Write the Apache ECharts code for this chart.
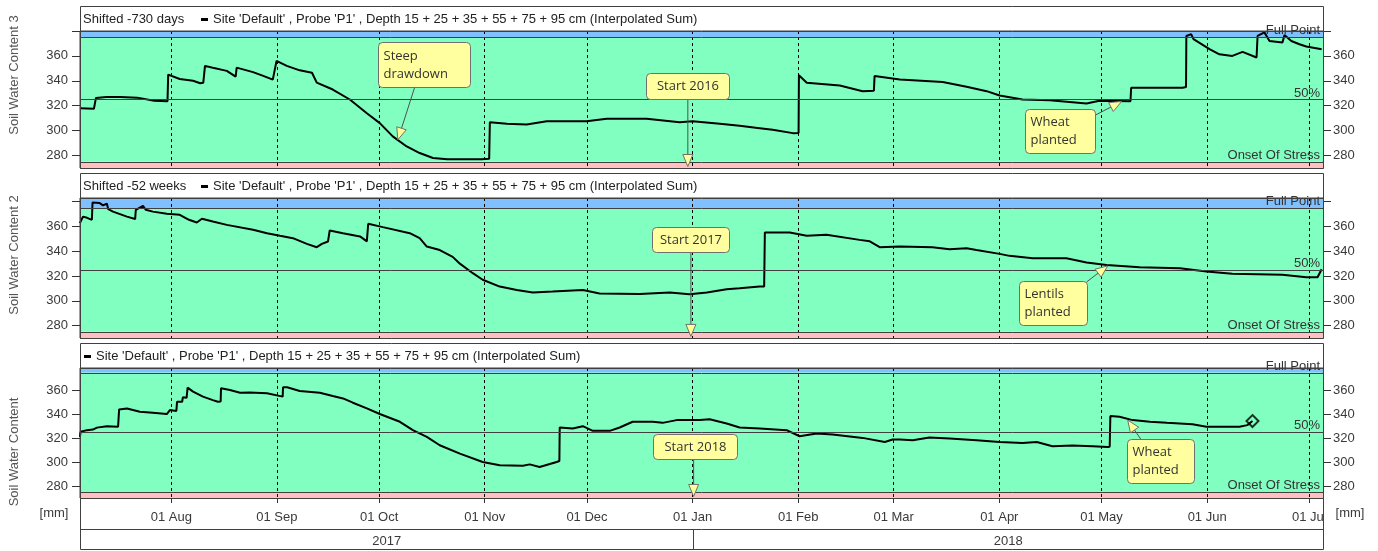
<!DOCTYPE html>
<html><head><meta charset="utf-8">
<script src="https://cdn.jsdelivr.net/npm/echarts@6/dist/echarts.min.js"></script>
<style>html,body{margin:0;padding:0;background:#fff}#c{width:1378px;height:551px}</style>
</head><body><div id="c"></div>
<script>
// ---------------- DATA ----------------
const seriesName = "Site 'Default' , Probe 'P1' , Depth 15 + 25 + 35 + 55 + 75 + 95 cm (Interpolated Sum)";
const panelTitles = ['Shifted -730 days', 'Shifted -52 weeks', ''];
const yAxisNames = ['Soil Water Content 3', 'Soil Water Content 2', 'Soil Water Content'];
const unitLabel = '[mm]';
const dataOrigin = '2017-07-05';          // day 0 of the day arrays below
const axisStartDay = 0.22, axisEndDay = 365;
const monthTicks = ['2017-08-01','2017-09-01','2017-10-01','2017-11-01','2017-12-01','2018-01-01','2018-02-01','2018-03-01','2018-04-01','2018-05-01','2018-06-01','2018-07-01'];
const monthLabels = ['01 Aug','01 Sep','01 Oct','01 Nov','01 Dec','01 Jan','01 Feb','01 Mar','01 Apr','01 May','01 Jun','01 Jul'];
const yearLabels = ['2017', '2018'];
const yearBoundary = '2018-01-01';
const yTickValues = [280, 300, 320, 340, 360, 380];
const yLabelValues = [280, 300, 320, 340, 360];
const yRanges = [[270, 380], [270, 383], [270, 379]];
const fullPoint = 375, halfPoint = 325, onsetOfStress = 275;
const refLabels = ['Full Point', '50%', 'Onset Of Stress'];

const p1Days = [0.2,4.3,4.8,4.9,8,12,17,22,25.9,26.1,29.5,33.4,35.5,36.4,36.9,39.2,43.3,45.9,46.2,51,54,56.8,57.9,60.9,64.7,68.3,69.7,74.4,79.4,84.4,88.2,92.0,96.1,99.9,103.8,108,118,120.3,120.5,125.5,131.3,137.2,148.9,154.8,166.5,176.2,180,188,193.8,199.7,203.5,209.4,211.1,211.2,213.5,223.2,229.9,233.2,233.4,240.8,253.4,260.4,266.3,270.1,276.8,284.8,295.6,299.4,308.5,308.7,323.8,324.8,324.9,326.3,327,331.7,334.6,338.4,341.4,345.5,345.8,347.8,349.3,353.1,353.7,355.7,358.1,360.1,364.6];
const p1Values = [318,317.5,318,326.3,327,327,326.5,324,323.6,345,341.5,340,338,338.5,352,350.5,348,343.3,350.6,347,344,341,356,352,348.4,346.5,338.5,333,325,314,306,295.4,287.3,282,278,277,277,277.5,306.7,305.6,305,307.5,307.5,309.6,309.6,306.7,307.5,305.6,304,302,300.7,298,298.2,344.4,338.4,336.3,331.7,332,343.8,341,339,335.2,331.7,328.2,325,324.4,321.8,324,323.6,334.4,334.4,335,376,377.5,373.5,365.4,361.3,360,363.2,358.7,376,378.9,372,370.8,376.7,372,369.4,367.5,365.4];

const p2Days = [0.2,1.1,2.3,3.7,3.9,6.0,7,8.1,8.5,9.9,14.0,16.4,16.6,18.7,19.5,21.6,25.7,29.5,32.2,34.5,36.0,39.2,43.3,51.0,55.1,58.9,62.7,66.8,69.7,71.2,73.0,73.4,73.5,77.4,82.4,84.4,84.7,84.8,89.1,97.0,99.9,102.0,105.8,109.6,111.7,115.5,118.4,123.4,128.4,133.1,138.9,147.8,152.7,164.5,173.3,179.1,184.2,190.0,193.8,199.7,201.0,201.2,208.5,213.5,219.3,229.0,232.0,234.9,240.8,250.4,255.4,260.4,263.3,270.1,273.0,279.8,289.7,295.6,301.5,311.2,323.0,330.8,338.4,353.1,360.1,363.4,364.6];
const p2Values = [362.7,368,367,365.4,379.4,378.9,377,378.5,374,372,368,366,373.5,376.7,373.5,372,370.2,369.4,365.4,363.2,366.2,364,361.3,357.3,354.6,352.5,350.6,346,343.3,346,347.9,347.5,356.8,354.6,352,348,348,362.2,359.5,354.6,350.6,343.8,341,335.5,330,322.3,317,311.5,308.8,306.7,307.5,308.8,306,305.6,306.7,305.3,306.7,309.4,310.2,311.5,311.5,355.2,355.2,352.5,353.3,349.2,348,343.3,343.8,343.3,341.7,342.5,341,337.9,336.3,334.4,334.4,331,329,327.1,326.3,323.6,321.8,321,319,319,325.5];

const p3Days = [0.2,0.4,2.3,4.0,5.2,8.1,11.4,11.6,11.7,14.0,17.8,21.6,25.7,26.6,28.5,28.7,30.2,30.4,31.5,31.8,33.4,36.3,39.2,40.7,41.5,41.6,44.2,47.2,50,55.1,59.7,59.8,61,64.7,70.6,74.4,77.4,80.3,84.4,88.2,94.1,97.9,102.0,105.8,111.7,118.4,123.4,130.2,132.2,135.1,140.1,140.9,141.0,144.8,147.8,150.7,155.7,158.6,162.4,168.3,171.2,175.3,182.1,185.0,190.0,193.8,199.7,207.6,211.4,216.4,221.1,229.9,236.4,238.7,240.8,244.6,249.5,255.4,263.3,270.1,276.8,281.0,285.6,291.5,297.4,301.8,302.4,302.6,305.3,309.1,314.2,319.2,326.7,330.8,340.5,342.8,344.3];
const p3Values = [321.3,325.5,326.9,327.4,329,330.2,329.7,329.7,344.3,345,342.3,341.5,340.4,343.7,343,350.7,350.7,354.4,354,362.5,359.2,355,352.1,350.7,351,362,360.6,358.3,358.5,357.8,355,362.8,362.8,359.7,358.3,355.5,353.5,349.9,345.1,340.4,333.9,326.9,321.3,314.2,307.2,300.2,297.4,297.1,298.2,296,300.2,301,329.1,328.3,330.2,326.3,326.3,329.1,333.9,333.9,333,335.3,335.3,336.1,332.5,329.1,328.3,326.9,321.8,324.1,323.2,320.4,317,319,319,318.5,320.7,319.9,318.5,317,316.2,317,313.4,314,313.4,312.8,313,338.7,338.1,335.3,333.9,333,331.9,329.7,329.7,331.1,334.5];

const annotations = [
  {panel:0, text:'Steep\ndrawdown', day:93.5, value:292.7},
  {panel:0, text:'Start 2016', day:178.6, value:271.2},
  {panel:0, text:'Wheat\nplanted', day:305.9, value:323.4},
  {panel:1, text:'Start 2017', day:179.5, value:271.3},
  {panel:1, text:'Lentils\nplanted', day:301.8, value:328.2},
  {panel:2, text:'Start 2018', day:180.3, value:271.3},
  {panel:2, text:'Wheat\nplanted', day:307.7, value:335.3}
];

// ---------------- LAYOUT / STYLE ----------------
const calloutLayout = [
  {box:[-20,-98,92,45], attach:[17,-53], align:'left'},
  {box:[-42,-93.5,83,26], attach:[0,-67.5], align:'center'},
  {box:[-97,8,70,44], attach:[-27,14], align:'left'},
  {box:[-39,-109.5,77,25], attach:[0,-84.5], align:'center'},
  {box:[-89,15,68,44], attach:[-21,16], align:'left'},
  {box:[-41,-62,84,25], attach:[0,-37], align:'center'},
  {box:[-1,19,67,44], attach:[13,19], align:'left'}
];
const L = 80, R = 55, W = 1378 - L - R;
const panelTop = [6, 173, 343];
const gridTop = [31, 198, 368];
const gridH = [137, 140, 130];
const legendLeft = [201, 201, 84];
const nameCenterY = [75, 255, 452];
const FONT = '"Liberation Sans", Arial, sans-serif';
const CFONT = '"Open Sans", "Noto Sans", sans-serif';
const AX = '#3a3a3a';

const DAY = 86400000;
function dateTs(s){ const a = s.split('-').map(Number); return new Date(a[0], a[1]-1, a[2]).getTime(); }
const originTs = dateTs(dataOrigin);
const toTs = d => originTs + d * DAY;
const monthTs = monthTicks.map(dateTs);
const pairs = (days, vals) => days.map((d, i) => [toTs(d), vals[i]]);
const panelData = [pairs(p1Days, p1Values), pairs(p2Days, p2Values), pairs(p3Days, p3Values)];

function monthLabel(v){
  let best = 0, bd = Infinity;
  monthTs.forEach((t, i) => { const dd = Math.abs(t - v); if (dd < bd) { bd = dd; best = i; } });
  return monthLabels[best];
}

const grids = [], xAxes = [], yAxes = [], series = [], legends = [], titles = [];
for (let i = 0; i < 3; i++) {
  const [ymin, ymax] = yRanges[i];
  grids.push({left: L, right: R, top: gridTop[i], height: gridH[i], show: true,
    borderColor: '#404040', borderWidth: 1, backgroundColor: 'transparent'});
  xAxes.push({type: 'value', gridIndex: i, min: toTs(axisStartDay), max: toTs(axisEndDay), z: 5,
    axisLine: {show: false},
    axisTick: {show: i === 2, customValues: monthTs, length: 5, lineStyle: {color: '#333'}},
    axisLabel: {show: i === 2, customValues: monthTs, formatter: monthLabel, margin: 13,
      fontSize: 13, fontFamily: FONT, color: AX, hideOverlap: false},
    splitLine: {show: true, lineStyle: {color: '#000', type: [3, 3], width: 1}}});
  ['left', 'right'].forEach(pos => {
    yAxes.push({type: 'value', gridIndex: i, position: pos, min: ymin, max: ymax,
      axisLine: {show: true, lineStyle: {color: '#333'}},
      axisTick: {show: true, length: 8, customValues: yTickValues, lineStyle: {color: '#333'}},
      axisLabel: {customValues: yLabelValues, margin: pos === 'left' ? 12 : 10,
        fontSize: 13, fontFamily: FONT, color: AX},
      splitLine: {show: false}});
  });
  series.push({type: 'line', name: seriesName, xAxisIndex: i, yAxisIndex: 2 * i,
    data: panelData[i], showSymbol: false, symbol: 'none', silent: true,
    lineStyle: {color: '#000', width: 2}, itemStyle: {color: '#000'},
    markArea: {silent: true, data: [
      [{yAxis: fullPoint, itemStyle: {color: '#80C0FF', opacity: 1}}, {yAxis: ymax}],
      [{yAxis: onsetOfStress, itemStyle: {color: '#80FFC0', opacity: 1}}, {yAxis: fullPoint}],
      [{yAxis: ymin, itemStyle: {color: '#FFC0C0', opacity: 1}}, {yAxis: onsetOfStress}]
    ]},
    markLine: {silent: true, symbol: ['none', 'none'],
      lineStyle: {color: '#404040', width: 1, type: 'solid'},
      label: {position: 'insideEndTop', fontSize: 13, fontFamily: FONT, color: '#333', distance: [3, 0]},
      data: [
        {yAxis: fullPoint, label: {formatter: refLabels[0]}},
        {yAxis: halfPoint, label: {formatter: refLabels[1]}},
        {yAxis: onsetOfStress, label: {formatter: refLabels[2]}}
      ]}
  });
  legends.push({left: legendLeft[i], top: panelTop[i] + 7, padding: 0, icon: 'rect', itemWidth: 7, itemHeight: 3,
    data: [seriesName], selectedMode: false, textStyle: {fontSize: 13, fontFamily: FONT, color: '#222'}});
  if (panelTitles[i]) titles.push({text: panelTitles[i], left: 83, top: panelTop[i] + 7, padding: 0,
    textStyle: {fontSize: 13, fontWeight: 'normal', fontFamily: FONT, color: '#222'}});
}
const last = panelData[2][panelData[2].length - 1];
series.push({type: 'scatter', name: 'end', xAxisIndex: 2, yAxisIndex: 4, data: [last],
  symbol: 'diamond', symbolSize: 12, silent: true, z: 6,
  itemStyle: {color: 'rgba(0,0,0,0)', borderColor: '#000', borderWidth: 2}});

const option = {animation: false, backgroundColor: '#fff', textStyle: {fontFamily: FONT},
  title: titles, legend: legends, grid: grids, xAxis: xAxes, yAxis: yAxes, series: series};

const chart = echarts.init(document.getElementById('c'));
chart.setOption(option);

// ---------------- DECORATION ----------------
const g = [];
const lineEl = (x1, y1, x2, y2, color, z) => ({type: 'line', z: z || 50, silent: true,
  shape: {x1, y1, x2, y2}, style: {stroke: color || '#404040', lineWidth: 1}});
for (let i = 0; i < 3; i++) {
  const bottom = gridTop[i] + gridH[i];
  g.push({type: 'rect', z: 50, silent: true, shape: {x: L + 0.5, y: panelTop[i] + 0.5, width: W, height: bottom - panelTop[i]},
    style: {fill: 'none', stroke: '#404040', lineWidth: 1}});
  g.push(lineEl(L, gridTop[i] + 0.5, L + W, gridTop[i] + 0.5));
  g.push({type: 'text', z: 50, silent: true, x: 14, y: nameCenterY[i], rotation: Math.PI / 2,
    style: {text: yAxisNames[i], fill: '#555', font: '13px ' + FONT, align: 'center', verticalAlign: 'middle'}});
}
// time axis box
const axTop = gridTop[2] + gridH[2], axBottom = 550, axMid = 529.5;
g.push({type: 'rect', z: 50, silent: true, shape: {x: L + 0.5, y: axTop + 0.5, width: W, height: axBottom - axTop - 1},
  style: {fill: 'none', stroke: '#404040', lineWidth: 1}});
g.push(lineEl(L, axMid, L + W, axMid));
const xJan = Math.round(chart.convertToPixel({gridIndex: 2}, [dateTs(yearBoundary), 300])[0]) + 0.5;
const xMin = chart.convertToPixel({gridIndex: 2}, [toTs(axisStartDay), 300])[0];
const xMax = chart.convertToPixel({gridIndex: 2}, [toTs(axisEndDay), 300])[0];
g.push(lineEl(xJan, axMid, xJan, axBottom));
const yearY = (axMid + axBottom) / 2 + 1.5;
g.push({type: 'text', z: 50, silent: true, x: (xMin + xJan) / 2, y: yearY,
  style: {text: yearLabels[0], fill: AX, font: '13px ' + FONT, align: 'center', verticalAlign: 'middle'}});
g.push({type: 'text', z: 50, silent: true, x: (xJan + xMax) / 2, y: yearY,
  style: {text: yearLabels[1], fill: AX, font: '13px ' + FONT, align: 'center', verticalAlign: 'middle'}});
// clip month labels at the right border
g.push({type: 'rect', z: 40, silent: true, shape: {x: L + W + 1, y: axTop + 6, width: 9, height: 22}, style: {fill: '#fff'}});
g.push({type: 'text', z: 50, silent: true, x: 54, y: 513,
  style: {text: unitLabel, fill: AX, font: '13px ' + FONT, align: 'center', verticalAlign: 'middle'}});
g.push({type: 'text', z: 50, silent: true, x: 1350, y: 513,
  style: {text: unitLabel, fill: AX, font: '13px ' + FONT, align: 'center', verticalAlign: 'middle'}});

// callouts
annotations.forEach((a, k) => {
  const lay = calloutLayout[k];
  const tip = chart.convertToPixel({gridIndex: a.panel}, [toTs(a.day), a.value]);
  const bx = Math.round(tip[0] + lay.box[0]) + 0.5, by = Math.round(tip[1] + lay.box[1]) + 0.5;
  const bw = lay.box[2], bh = lay.box[3];
  const ax = tip[0] + lay.attach[0], ay = tip[1] + lay.attach[1];
  const dx = tip[0] - ax, dy = tip[1] - ay, len = Math.hypot(dx, dy) || 1;
  const ux = dx / len, uy = dy / len, nx = -uy, ny = ux;
  const bcx = tip[0] - 12 * ux, bcy = tip[1] - 12 * uy;
  g.push({type: 'line', z: 90, silent: true, shape: {x1: ax, y1: ay, x2: bcx, y2: bcy},
    style: {stroke: '#505050', lineWidth: 1}});
  g.push({type: 'polygon', z: 91, silent: true,
    shape: {points: [[tip[0], tip[1]], [bcx + 5 * nx, bcy + 5 * ny], [bcx - 5 * nx, bcy - 5 * ny]]},
    style: {fill: '#FFFF99', stroke: '#707070', lineWidth: 1}});
  g.push({type: 'rect', z: 92, silent: true, shape: {x: bx, y: by, width: bw, height: bh, r: 4},
    style: {fill: '#FFFFA0', stroke: '#707070', lineWidth: 1}});
  g.push({type: 'text', z: 93, silent: true,
    x: lay.align === 'center' ? bx + bw / 2 : bx + 5, y: by + bh / 2,
    style: {text: a.text, fill: '#333', font: '13px ' + CFONT, lineHeight: 18,
      align: lay.align, verticalAlign: 'middle'}});
});
chart.setOption({graphic: {elements: g}});
</script>
</body></html>
